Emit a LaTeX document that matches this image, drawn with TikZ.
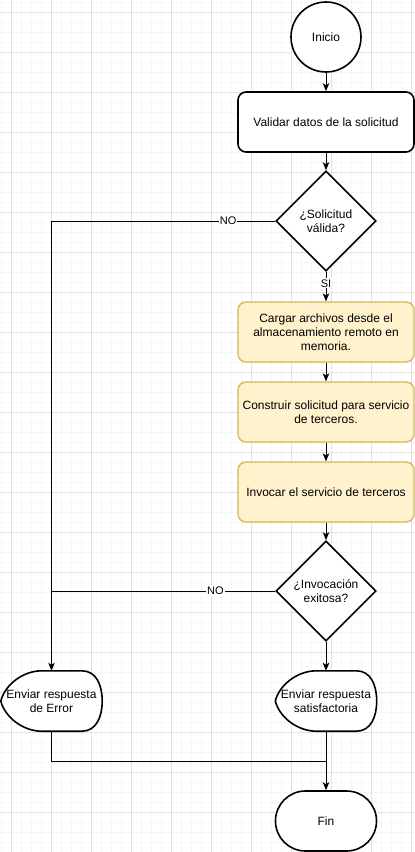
\documentclass[tikz,border=0pt]{standalone}
\usepackage{fontspec}
\setmainfont{Liberation Sans}
\usetikzlibrary{shapes.geometric,arrows.meta,calc}
\definecolor{yfill}{HTML}{FFF2CC}
\definecolor{ystroke}{HTML}{D6B656}
\definecolor{gridmajor}{HTML}{E2E2E2}
\definecolor{gridminor}{HTML}{F6F6F6}
\begin{document}
\begin{tikzpicture}[x=1pt,y=-1pt,
  every node/.style={font=\fontsize{12}{14}\selectfont, inner sep=0pt, text=black},
  startnode/.style={circle, draw=black, line width=1.6pt, fill=white, minimum size=70pt},
  proc/.style={draw=black, line width=1.6pt, rounded corners=8pt, fill=white, minimum width=176pt, minimum height=60pt, align=center},
  yproc/.style={draw=ystroke, fill=yfill, line width=1.3pt, rounded corners=8pt, minimum width=176pt, minimum height=60pt, align=center},
  decision/.style={diamond, draw=black, line width=1.6pt, fill=white, minimum width=100pt, minimum height=100pt, align=center},
  disp/.style={minimum width=101pt, minimum height=60pt, align=center},
  displine/.style={draw=black, fill=white, line width=1.6pt, line join=round},
  endnode/.style={draw=black, line width=1.6pt, fill=white, rounded corners=29.9pt, minimum width=101pt, minimum height=60pt},
  conn/.style={draw=black, line width=1pt},
  arr/.style={conn, -{Stealth[length=8pt, width=6.5pt, inset=2pt]}},
  lbl/.style={fill=white, font=\fontsize{11}{13}\selectfont, inner sep=1pt},
  minorgrid/.style={draw=gridminor, line width=1pt},
  majorgrid/.style={draw=gridmajor, line width=1pt}
]
\useasboundingbox (0,0) rectangle (415,852);
\fill[white] (0,0) rectangle (415,852);
% grid
\foreach \x in {1.5,11.5,...,411.5} \draw[minorgrid] (\x,0) -- (\x,852);
\foreach \y in {2,12,...,852} \draw[minorgrid] (0,\y) -- (415,\y);
\foreach \x in {11.5,51.5,...,411.5} \draw[majorgrid] (\x,0) -- (\x,852);
\foreach \y in {12,52,...,852} \draw[majorgrid] (0,\y) -- (415,\y);

% nodes
\node[startnode] (ini) at (326,37) {Inicio};
\node[proc] (val) at (326,122) {Validar datos de la solicitud};
\node[decision] (d1) at (326,221) {¿Solicitud\\válida?};
\node[yproc] (c1) at (326,332) {Cargar archivos desde el\\almacenamiento remoto en\\memoria.};
\node[yproc] (c2) at (326,412) {Construir solicitud para servicio\\de terceros.};
\node[yproc] (c3) at (326,492) {Invocar el servicio de terceros};
\node[decision] (d2) at (326,591) {¿Invocación\\exitosa?};

% display shapes
\node[disp] (err) at (51.5,701) {};
\draw[displine] (err.west) .. controls ($(err.west)+(4,-16)$) and ($(err.north west)+(22,0)$) .. ($(err.north west)+(41,0)$)
  -- ($(err.north west)+(81,0)$) .. controls ($(err.north east)+(-6,0)$) and ($(err.east)+(0,-16)$) .. (err.east)
  .. controls ($(err.east)+(0,16)$) and ($(err.south east)+(-6,0)$) .. ($(err.south west)+(81,0)$)
  -- ($(err.south west)+(41,0)$) .. controls ($(err.south west)+(22,0)$) and ($(err.west)+(4,16)$) .. (err.west);
\node[disp] at (err) {Enviar respuesta\\de Error};

\node[disp] (ok) at (326,701) {};
\draw[displine] (ok.west) .. controls ($(ok.west)+(4,-16)$) and ($(ok.north west)+(22,0)$) .. ($(ok.north west)+(41,0)$)
  -- ($(ok.north west)+(81,0)$) .. controls ($(ok.north east)+(-6,0)$) and ($(ok.east)+(0,-16)$) .. (ok.east)
  .. controls ($(ok.east)+(0,16)$) and ($(ok.south east)+(-6,0)$) .. ($(ok.south west)+(81,0)$)
  -- ($(ok.south west)+(41,0)$) .. controls ($(ok.south west)+(22,0)$) and ($(ok.west)+(4,16)$) .. (ok.west);
\node[disp] at (ok) {Enviar respuesta\\satisfactoria};

\node[endnode] (fin) at (326,821) {Fin};

% connectors
\draw[arr] (ini.south) -- (val.north);
\draw[arr] (val.south) -- (d1.north);
\draw[conn] (d1.west) -- node[lbl, pos=0.21] {NO} (d1.west -| err.north);
\draw[arr] (d1.west -| err.north) -- (err.north);
\draw[arr] (d1.south) -- node[lbl, pos=0.39] {SI} (c1.north);
\draw[arr] (c1.south) -- (c2.north);
\draw[arr] (c2.south) -- (c3.north);
\draw[arr] (c3.south) -- (d2.north);
\draw[conn] (d2.west) -- node[lbl, pos=0.267] {NO} (d2.west -| err.north);
\draw[arr] (d2.south) -- (ok.north);
\coordinate (j) at (326,761);
\draw[conn] (err.south) |- (j);
\draw[arr] (ok.south) -- (fin.north);
\end{tikzpicture}
\end{document}
